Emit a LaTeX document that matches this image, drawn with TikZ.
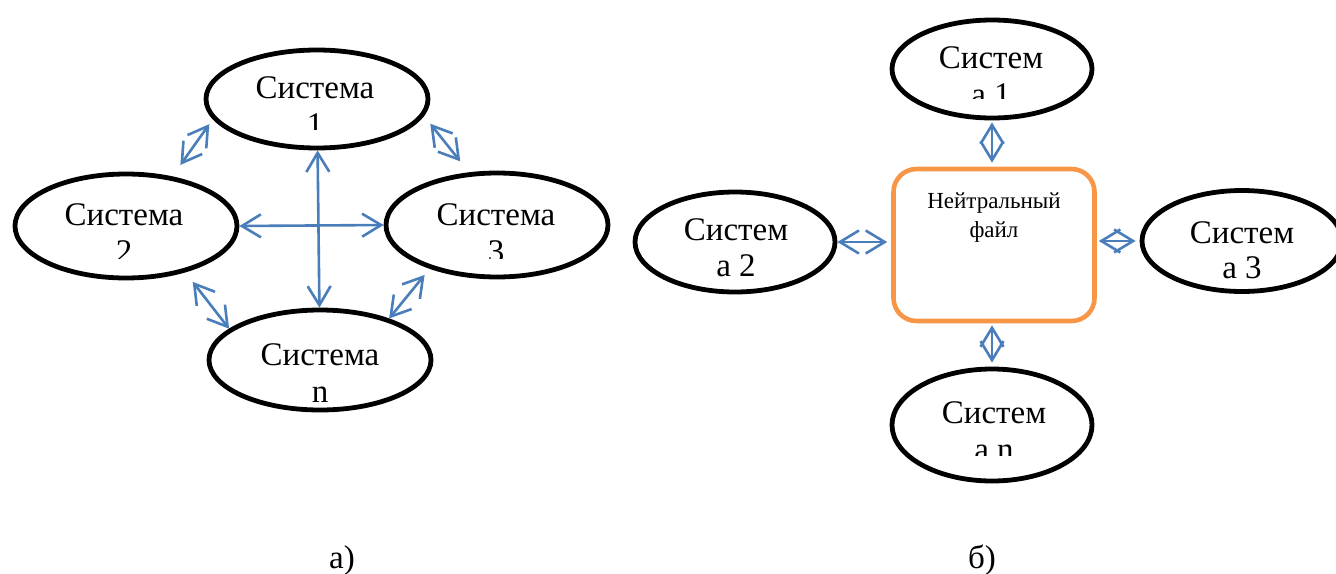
\documentclass[tikz,border=0pt]{standalone}
\usepackage{fontspec}
\setmainfont{Liberation Serif}
\usetikzlibrary{shapes.geometric,arrows.meta}
\definecolor{linkblue}{HTML}{4A7EBB}
\definecolor{fileorange}{HTML}{F79646}
\tikzset{
  sys/.style={ellipse, draw=black, line width=2.4pt, inner sep=0pt},
  syswide/.style={sys, minimum width=111pt},
  sysnarrow/.style={sys, minimum width=100pt},
  systext/.style={anchor=base, inner sep=0pt, font=\fontsize{16.5}{19}\selectfont},
  filetext/.style={anchor=base, inner sep=0pt, font=\fontsize{11.5}{14}\selectfont},
  link/.style={draw=linkblue, line width=1.3pt, <->,
    >={Straight Barb[length=9.5pt,width=11.5pt]}},
  neutral/.style={draw=fileorange, line width=2.3pt, rounded corners=11.5pt,
    minimum width=100.5pt, minimum height=76pt, inner sep=0pt}
}
\begin{document}
\begin{tikzpicture}[x=0.5pt,y=-0.5pt]
\useasboundingbox (0,0) rectangle (1336,573);

% ---- a) point-to-point links ----
\node[syswide, minimum height=49pt] (E1) at (317,99) {};
\node[syswide, minimum height=52pt] (E2) at (126,226) {};
\node[syswide, minimum height=52pt] (E3) at (497,225) {};
\node[syswide, minimum height=50pt] (En) at (320,360) {};

\node[systext] (E1a) at (315,98) {Система};
\node[systext] (E2a) at (124,225) {Система};
\node[systext] (E3a) at (496,225) {Система};
\node[systext] (Ena) at (320,365) {Система};
\node[systext] (Enb) at (320,402) {n};
\begin{scope}
  \clip (200,60) rectangle (430,129);
  \node[systext] (E1b) at (315,135) {1};
\end{scope}
\begin{scope}
  \clip (20,190) rectangle (230,258);
  \node[systext] (E2b) at (124,262) {2};
\end{scope}
\begin{scope}
  \clip (390,190) rectangle (600,258);
  \node[systext] (E3b) at (496,262) {3};
\end{scope}

\draw[link, shorten <=3pt, shorten >=7pt] (E1.191) -- (E2.47);
\draw[link, shorten <=5pt, shorten >=7pt] (E1.351) -- (E3.118);
\draw[link] (E1) -- (En);
\draw[link] (E2.east) -- (E3.west);
\draw[link, shorten <=6pt] (E2.322) -- (En.161);
\draw[link, shorten <=4pt] (E3.213) -- (En.31);

\node[systext] (capa) at (342,568) {а)};

% ---- b) exchange through a neutral file ----
\node[neutral] (box) at (994,245) {};
\node[filetext] (boxa) at (994,208) {Нейтральный};
\node[filetext] (boxb) at (994,237) {файл};

\node[sysnarrow, minimum height=49pt] (R1) at (992,69) {};
\node[sysnarrow, minimum height=50pt] (R2) at (735,242) {};
\node[sysnarrow, minimum height=50.5pt] (R3) at (1242,241) {};
\node[sysnarrow, minimum height=56pt] (Rn) at (992,425) {};

\node[systext] (R1a) at (991,68) {Систем};
\node[systext] (R2a) at (736,240) {Систем};
\node[systext] (R2b) at (736,276) {а 2};
\node[systext] (R3a) at (1242,243) {Систем};
\node[systext] (R3b) at (1242,278) {а 3};
\node[systext] (Rna) at (994,423) {Систем};
\begin{scope}
  \clip (900,70) rectangle (1090,98);
  \node[systext] (R1b) at (991,105) {а 1};
\end{scope}
\begin{scope}
  \clip (900,430) rectangle (1090,455);
  \node[systext] (Rnb) at (994,460) {а n};
\end{scope}

\draw[link, shorten <=1pt, shorten >=2pt] (R1.south) -- (R1.south |- box.north);
\draw[link, shorten <=1pt, shorten >=2pt] (Rn.north |- box.south) -- (Rn.north);
\draw[link, shorten >=2pt] (R2.east) -- (R2.east -| box.west);
\draw[link, shorten <=1pt, shorten >=2pt] (box.east |- R3.west) -- (R3.west);

\node[systext] (capb) at (982,568) {б)};
\end{tikzpicture}
\end{document}
